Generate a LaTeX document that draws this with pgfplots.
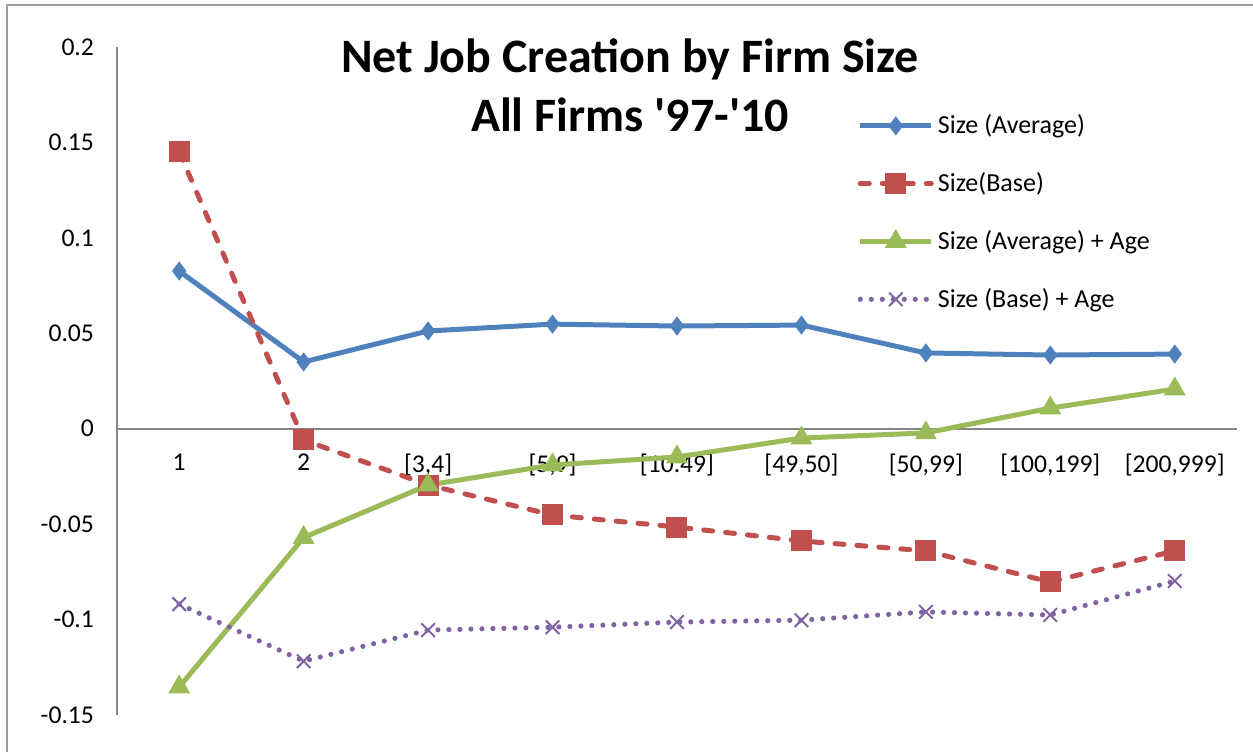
\documentclass[border=0pt]{standalone}
\usepackage{pgfplots}
\pgfplotsset{compat=1.18}
\usepackage{fontspec}
\setmainfont{Carlito}

\definecolor{cblue}{HTML}{4F81BD}
\definecolor{cred}{HTML}{C0504D}
\definecolor{cgreen}{HTML}{9BBB59}
\definecolor{cpurple}{HTML}{8064A2}
\definecolor{caxis}{HTML}{868686}

\pgfplotstableread{
x avg base avgage baseage
0 0.0826 0.1450 -0.1353 -0.0919
1 0.0350 -0.0059 -0.0570 -0.1218
2 0.0512 -0.0295 -0.0295 -0.1055
3 0.0548 -0.0452 -0.0190 -0.1040
4 0.0538 -0.0515 -0.0148 -0.1013
5 0.0543 -0.0588 -0.0049 -0.1003
6 0.0397 -0.0640 -0.0022 -0.0960
7 0.0386 -0.0803 0.0108 -0.0976
8 0.0391 -0.0640 0.0208 -0.0798
}\jobdata

\begin{document}
\begin{tikzpicture}
\path[use as bounding box] (0,0) rectangle (626.5pt,376pt);
\draw[caxis!80, line width=1pt] (3.5pt,0) -- (3.5pt,373.5pt) -- (626.5pt,373.5pt);
\begin{axis}[
  at={(58.5pt,18.5pt)}, anchor=south west,
  scale only axis,
  width=560pt, height=334pt,
  xmin=-0.5, xmax=8.5,
  ymin=-0.15, ymax=0.2,
  axis y line=left,
  axis x line=middle,
  x axis line style={-, caxis, line width=0.8pt},
  y axis line style={-, caxis, line width=0.8pt},
  major tick length=0pt,
  xtick={0,...,8},
  xticklabels={1,2,{[3,4]},{[5,9]},{[10.49]},{[49,50]},{[50,99]},{[100,199]},{[200,999]}},
  ytick={-0.15,-0.1,-0.05,0,0.05,0.1,0.15,0.2},
  yticklabels={-0.15,-0.1,-0.05,0,0.05,0.1,0.15,0.2},
  /pgf/number format/assume math mode=true,
  tick label style={font=\fontsize{12.8}{15}\selectfont, text=black},
  xticklabel style={anchor=north, yshift=-9pt},
  yticklabel style={anchor=east, xshift=-8pt},
  clip=false,
  legend style={at={(0.661,0.905)}, anchor=north west, draw=none, fill=none,
    font=\fontsize{13}{15}\selectfont, row sep=13.9pt, inner sep=0pt,
    /tikz/every even column/.append style={column sep=2pt}},
  legend cell align=left,
  legend image code/.code={
    \draw[#1, mark repeat=2, mark phase=2] plot coordinates {(0pt,0pt) (17.75pt,0pt) (35.5pt,0pt)};
  },
]
\addplot[cblue, line width=2.5pt, mark=diamond*, mark size=4.4pt,
  mark options={solid, fill=cblue, line width=0.5pt}] table[x=x, y=avg] {\jobdata};
\addlegendentry{Size (Average)}
\addplot[cred, line width=2.5pt, dash pattern=on 4.5pt off 6.5pt, line cap=round, mark=square*, mark size=5pt,
  mark options={solid, fill=cred, line width=0.5pt, line cap=butt}] table[x=x, y=base] {\jobdata};
\addlegendentry{Size(Base)}
\addplot[cgreen, line width=2.5pt, mark=triangle*, mark size=5.8pt,
  mark options={solid, fill=cgreen, line width=0.5pt}] table[x=x, y=avgage] {\jobdata};
\addlegendentry{Size (Average) + Age}
\addplot[cpurple, line width=2.6pt, dash pattern=on 0pt off 5.5pt, line cap=round, mark=x, mark size=4.8pt,
  mark options={solid, line width=1pt, line cap=butt}] table[x=x, y=baseage] {\jobdata};
\addlegendentry{Size (Base) + Age}
\end{axis}
\node[align=center, font=\fontsize{24}{29.5}\selectfont\bfseries] at (315pt,333.5pt)
  {Net Job Creation by Firm Size\\All Firms \textquotesingle97-\textquotesingle10};
\end{tikzpicture}
\end{document}
